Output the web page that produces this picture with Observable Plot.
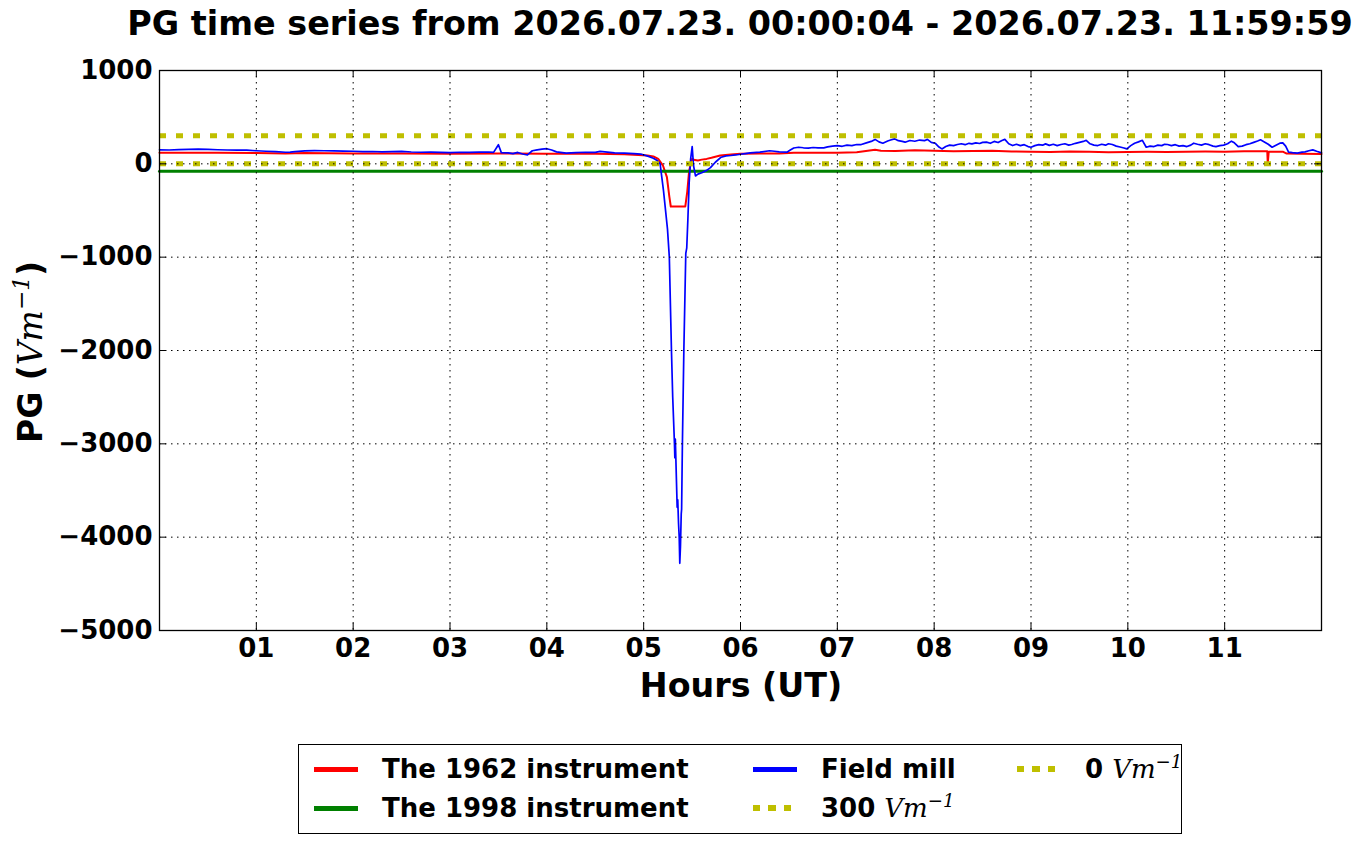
<!DOCTYPE html>
<html>
<head>
<meta charset="utf-8">
<script src="https://cdn.jsdelivr.net/npm/d3@7"></script>
<script src="https://cdn.jsdelivr.net/npm/@observablehq/plot@0.6"></script>
<style>
  html, body { margin: 0; padding: 0; background: #fff; }
  body { width: 1361px; height: 844px; position: relative; overflow: hidden; font-family: "DejaVu Sans", sans-serif; }
  .title { position: absolute; left: 740px; top: 4px; transform: translateX(-50%); white-space: nowrap; font-weight: bold; font-size: 33.4px; }
  #chart { position: absolute; left: 0; top: 50px; }
  .xlabel { position: absolute; left: 741px; top: 666px; transform: translateX(-50%); white-space: nowrap; font-weight: bold; font-size: 33.3px; }
  .ylabel { position: absolute; left: 30px; top: 352px; transform: translate(-50%, -50%) rotate(-90deg); white-space: nowrap; font-weight: bold; font-size: 33px; }
  .m { font-family: "DejaVu Serif", serif; font-style: italic; font-weight: normal; }
  .m sup { font-size: 0.7em; vertical-align: 0.55em; line-height: 0; }
  .legend { position: absolute; left: 298px; top: 744px; width: 884px; height: 90px; border: 1px solid #000; box-sizing: border-box; }
  .item { position: absolute; font-weight: bold; font-size: 26px; white-space: nowrap; height: 30px; line-height: 30px; }
  .sw { position: absolute; }
</style>
</head>
<body>
<div class="title" id="title"></div>
<div id="chart"></div>
<div class="xlabel">Hours (UT)</div>
<div class="ylabel">PG (<span class="m">Vm<sup>−1</sup></span>)</div>
<div class="legend" id="legend"></div>
<script>
const titleText = "PG time series from 2026.07.23. 00:00:04 - 2026.07.23. 11:59:59";

const hourTicks = [1, 2, 3, 4, 5, 6, 7, 8, 9, 10, 11];
const hourTickLabels = ["01", "02", "03", "04", "05", "06", "07", "08", "09", "10", "11"];
const pgTicks = [1000, 0, -1000, -2000, -3000, -4000, -5000];

// Field mill (blue)
const fieldMillHours = [
  0.00, 0.10, 0.20, 0.30, 0.40, 0.50, 0.60, 0.70, 0.80, 0.90,
  1.00, 1.10, 1.20, 1.30, 1.35, 1.40, 1.50, 1.60, 1.70, 1.80, 1.90,
  2.00, 2.10, 2.20, 2.30, 2.40, 2.50, 2.60, 2.70, 2.80, 2.90,
  3.00, 3.10, 3.20, 3.30, 3.40, 3.45, 3.50, 3.53, 3.60, 3.65, 3.70, 3.75, 3.80, 3.85, 3.90, 3.95,
  4.00, 4.05, 4.10, 4.20, 4.30, 4.40, 4.50, 4.55, 4.60, 4.70, 4.80, 4.90, 4.97,
  5.05, 5.10, 5.14, 5.17, 5.205, 5.246, 5.265, 5.287, 5.30, 5.318, 5.322, 5.327, 5.333, 5.346,
  5.352, 5.360, 5.367, 5.373, 5.380, 5.388, 5.392, 5.400, 5.415, 5.435, 5.445, 5.456, 5.47,
  5.485, 5.501, 5.515, 5.535, 5.56, 5.60, 5.65, 5.69, 5.74, 5.80, 5.85, 5.90, 5.95,
  6.00, 6.05, 6.10, 6.20, 6.30, 6.35, 6.40, 6.48, 6.51, 6.55, 6.60, 6.65, 6.70, 6.75, 6.80, 6.86, 6.90, 6.95,
  7.00, 7.05, 7.10, 7.15, 7.20, 7.24, 7.30, 7.35, 7.39, 7.43, 7.47, 7.52, 7.55, 7.59, 7.63, 7.67,
  7.70, 7.75, 7.80, 7.85, 7.90, 7.93, 7.97,
  8.01, 8.05, 8.08, 8.12, 8.16, 8.20, 8.24, 8.28, 8.32, 8.36, 8.39, 8.43, 8.47, 8.50, 8.54, 8.58,
  8.62, 8.66, 8.70, 8.73, 8.77, 8.81, 8.85, 8.89, 8.93, 8.97,
  9.00, 9.04, 9.08, 9.12, 9.15, 9.19, 9.23, 9.27, 9.31, 9.35, 9.39, 9.42, 9.46, 9.50, 9.54, 9.57,
  9.61, 9.65, 9.69, 9.73, 9.77, 9.80, 9.84, 9.88, 9.92, 9.96, 9.99,
  10.03, 10.07, 10.11, 10.15, 10.19, 10.23, 10.27, 10.31, 10.35, 10.38, 10.41, 10.45, 10.49, 10.53,
  10.57, 10.61, 10.65, 10.68, 10.72, 10.76, 10.80, 10.84, 10.88, 10.91, 10.95, 10.99,
  11.03, 11.07, 11.10, 11.14, 11.18, 11.22, 11.26, 11.30, 11.34, 11.37, 11.41, 11.45, 11.49, 11.53,
  11.57, 11.60, 11.63, 11.66, 11.70, 11.75, 11.80, 11.83, 11.87, 11.91, 11.95, 12.00
];
const fieldMillPG = [
  150, 148, 152, 155, 158, 154, 151, 148, 147, 146,
  140, 135, 130, 124, 126, 130, 138, 142, 140, 138, 136,
  135, 130, 132, 128, 131, 133, 127, 124, 126, 122,
  120, 124, 122, 125, 127, 123, 205, 120, 118, 110, 122, 105, 95, 140, 150, 158,
  162, 148, 128, 115, 120, 124, 122, 133, 128, 118, 115, 110, 105,
  80, 60, 35, 0, -290, -700, -1000, -2000, -2500, -3000, -3150, -2950, -3180, -3680,
  -3600, -3850, -4000, -4280, -4100, -3750, -3700, -3000, -2000, -960, -900, -610, -200,
  50, 185, -20, -130, -110, -95, -70, -40, 17, 71, 85, 89, 95,
  103, 110, 118, 125, 140, 135, 128, 125, 145, 170, 178, 172, 168, 175, 170, 171, 182, 190,
  196, 188, 200, 195, 207, 205, 225, 240, 262, 235, 221, 245, 255, 268, 248, 240,
  232, 250, 242, 255, 248, 262, 230,
  221, 180, 160, 185, 200, 195, 207, 215, 205, 220, 214, 225, 218, 230, 232, 220,
  240, 228, 250, 262, 215, 196, 210, 195, 205, 185,
  178, 195, 205, 200, 214, 198, 210, 195, 207, 215, 200, 207, 220, 230, 240, 252,
  215, 200, 196, 210, 200, 215, 207, 190, 180, 170, 160,
  195, 221, 235, 252, 178, 190, 185, 200, 195, 210, 207, 195, 205, 190,
  195, 185, 200, 221, 210, 200, 215, 205, 190, 185, 195, 200,
  215, 243, 225, 185, 190, 205, 215, 230, 245, 258, 235, 210, 178, 200,
  221, 225, 190, 125, 120, 115, 125, 128, 140, 150, 135, 118
];

// The 1962 instrument (red)
const inst1962Hours = [
  0.00, 0.30, 0.60, 1.00, 1.30, 1.50, 2.00, 2.50, 3.00, 3.50, 4.00, 4.50, 4.80,
  5.04, 5.10, 5.15, 5.20, 5.24, 5.265, 5.28, 5.43, 5.45, 5.47, 5.50, 5.53, 5.56, 5.60, 5.65, 5.70, 5.79, 5.90,
  6.00, 6.20, 6.40, 6.55, 7.00, 7.20, 7.39, 7.45, 7.60, 7.80, 8.00, 8.20, 8.40, 8.60, 8.80,
  9.00, 9.20, 9.40, 9.60, 9.80, 10.00, 10.20, 10.40, 10.60, 10.80, 11.00, 11.20, 11.44, 11.445, 11.455,
  11.60, 11.64, 11.80, 12.00
];
const inst1962PG = [
  118, 120, 118, 115, 110, 115, 112, 110, 108, 110, 108, 107, 104,
  89, 80, 53, -20, -143, -350, -457, -457, -300, -72, 53, 40, 35, 45, 53, 65, 89, 100,
  107, 110, 112, 118, 120, 125, 150, 140, 138, 145, 140, 135, 138, 140, 132,
  130, 128, 132, 130, 125, 128, 130, 128, 130, 132, 130, 135, 135, 5, 130,
  130, 110, 107, 105
];

// The 1998 instrument (green)
const inst1998Hours = [0, 12];
const inst1998PG = [-80, -80];

// Reference levels
const refLevels = [300, 0];

const fieldMill = fieldMillHours.map((h, i) => ({h, v: fieldMillPG[i]}));
const inst1962 = inst1962Hours.map((h, i) => ({h, v: inst1962PG[i]}));
const inst1998 = inst1998Hours.map((h, i) => ({h, v: inst1998PG[i]}));

const yellow = "#bfbf00";
const dotted = "7,10";
const gridDash = "1.5,4.5";

document.getElementById("title").textContent = titleText;

const xTickLen = 7 / 96.83;      // hours per 7px
const yTickLen = 7 * 6000 / 560; // PG units per 7px

const chart = Plot.plot({
  width: 1361,
  height: 660,
  marginTop: 20,
  marginBottom: 80,
  marginLeft: 159,
  marginRight: 40,
  style: { fontFamily: "DejaVu Sans", fontWeight: "bold", fontSize: "26px", color: "#000", background: "#fff" },
  x: {
    domain: [0, 12],
    ticks: hourTicks,
    tickFormat: d => hourTickLabels[hourTicks.indexOf(d)],
    tickSize: 0,
    tickPadding: 8,
    label: null
  },
  y: {
    domain: [-5000, 1000],
    ticks: pgTicks,
    tickFormat: d => d < 0 ? "\u2212" + (-d) : String(d),
    tickSize: 0,
    tickPadding: 7,
    label: null
  },
  marks: [
    Plot.line(inst1962, {x: "h", y: "v", stroke: "#ff0000", strokeWidth: 2}),
    Plot.line(inst1998, {x: "h", y: "v", stroke: "#008000", strokeWidth: 3}),
    Plot.line(fieldMill, {x: "h", y: "v", stroke: "#0000ff", strokeWidth: 1.7}),
    Plot.ruleY([refLevels[0]], {stroke: yellow, strokeWidth: 5, strokeDasharray: dotted}),
    Plot.ruleY([refLevels[1]], {stroke: yellow, strokeWidth: 5, strokeDasharray: dotted}),
    Plot.ruleX(hourTicks, {stroke: "#000", strokeWidth: 1, strokeDasharray: gridDash}),
    Plot.ruleY(pgTicks.slice(1, -1), {stroke: "#000", strokeWidth: 1, strokeDasharray: gridDash}),
    Plot.ruleY(pgTicks, {x1: 0, x2: xTickLen, stroke: "#000", strokeWidth: 1}),
    Plot.ruleY(pgTicks, {x1: 12 - xTickLen, x2: 12, stroke: "#000", strokeWidth: 1}),
    Plot.ruleX(hourTicks, {y1: -5000, y2: -5000 + yTickLen, stroke: "#000", strokeWidth: 1}),
    Plot.ruleX(hourTicks, {y1: 1000 - yTickLen, y2: 1000, stroke: "#000", strokeWidth: 1}),
    Plot.frame({stroke: "#000", strokeWidth: 1.3})
  ]
});
document.getElementById("chart").appendChild(chart);

// Legend (HTML, matplotlib-style, 3 columns filled column-wise)
const legendEntries = [
  {label: "The 1962 instrument", color: "#ff0000", dash: false},
  {label: "The 1998 instrument", color: "#008000", dash: false},
  {label: "Field mill", color: "#0000ff", dash: false},
  {label: "300", math: true, color: yellow, dash: true},
  {label: "0", math: true, color: yellow, dash: true}
];
const colX = [15, 454, 718];   // swatch left within legend box
const rowY = [24, 63];
const legend = document.getElementById("legend");
legendEntries.forEach((e, i) => {
  const col = Math.floor(i / 2), row = i % 2;
  const sw = document.createElement("div");
  sw.className = "sw";
  sw.style.left = colX[col] + "px";
  if (e.dash) {
    sw.style.top = (rowY[row] - 3) + "px";
    sw.style.height = "6px";
    sw.style.width = "38px";
    sw.style.background = `repeating-linear-gradient(90deg, ${e.color} 0 7px, transparent 7px 15.5px)`;
  } else {
    sw.style.top = (rowY[row] - 2.5) + "px";
    sw.style.height = "5px";
    sw.style.width = "44px";
    sw.style.background = e.color;
  }
  legend.appendChild(sw);
  const t = document.createElement("div");
  t.className = "item";
  t.style.left = (colX[col] + 68) + "px";
  t.style.top = (rowY[row] - 15) + "px";
  if (e.math) {
    t.innerHTML = e.label + ' <span class="m">Vm<sup>−1</sup></span>';
  } else {
    t.textContent = e.label;
  }
  legend.appendChild(t);
});
</script>
</body>
</html>
